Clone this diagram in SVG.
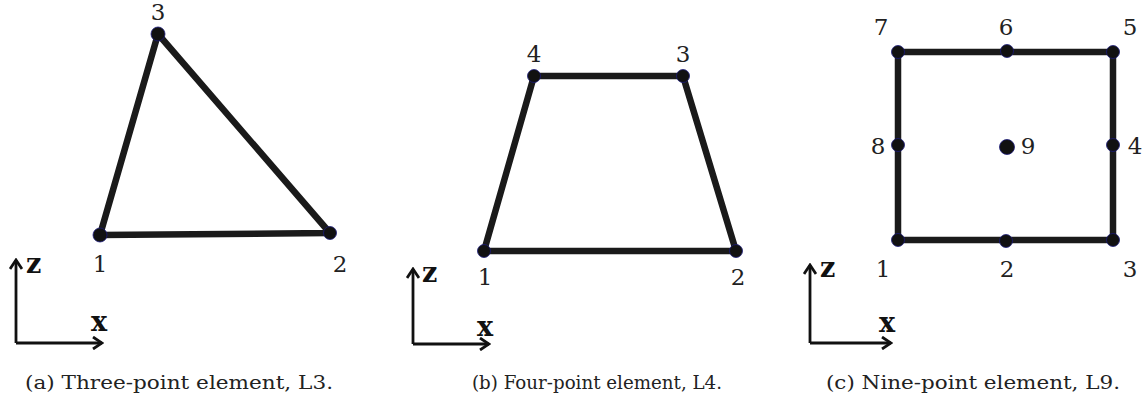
<svg xmlns="http://www.w3.org/2000/svg" width="1146" height="400" viewBox="0 0 1146 400">
<style>
.edge{fill:none;stroke:#1a1a1a;stroke-width:6.5;stroke-linejoin:round;stroke-linecap:round}
.node{fill:#111;stroke:#1a1a7a;stroke-width:0.8}
.num{font-family:"DejaVu Serif","Liberation Serif",serif;font-size:23px;fill:#222;text-anchor:middle}
.ax{fill:none;stroke:#111;stroke-width:2.8}
.axl{font-family:"DejaVu Serif","Liberation Serif",serif;font-weight:bold;font-size:27px;fill:#111}
.cap{font-family:"DejaVu Serif","Liberation Serif",serif;font-size:18.5px;fill:#222}
</style>
<defs>
<marker id="arr" viewBox="0 0 14 14" refX="12" refY="7" markerWidth="14" markerHeight="14" markerUnits="userSpaceOnUse" orient="auto">
<polyline points="3,1 12,7 3,13" fill="none" stroke="#111" stroke-width="2.8"/>
</marker>
</defs>
<rect width="1146" height="400" fill="#fff"/>

<g id="connectors">
<polygon class="edge" points="100,235 330,233 158,34"/>
<polygon class="edge" points="484,251 736,251 683,76 534,76"/>
<polygon class="edge" points="898,240 1113,240 1113,52 898,52"/>
</g>

<g id="panel-a">
<g id="a-n1"><circle class="node" cx="100" cy="235" r="7"/><text class="num" x="100" y="272">1</text></g>
<g id="a-n2"><circle class="node" cx="330" cy="233" r="6.5"/><text class="num" x="340" y="272">2</text></g>
<g id="a-n3"><circle class="node" cx="158" cy="34" r="7"/><text class="num" x="158" y="20">3</text></g>
<g id="a-axes">
<line class="ax" x1="16" y1="343" x2="102" y2="343" marker-end="url(#arr)"/>
<line class="ax" x1="16" y1="343" x2="16" y2="260" marker-end="url(#arr)"/>
<text class="axl" x="26" y="273">z</text>
<text class="axl" x="91" y="331">x</text>
</g>
<text class="cap" x="25" y="389" textLength="308" lengthAdjust="spacingAndGlyphs">(a) Three-point element, L3.</text>
</g>

<g id="panel-b">
<g id="b-n1"><circle class="node" cx="484" cy="251" r="6.5"/><text class="num" x="485" y="285">1</text></g>
<g id="b-n2"><circle class="node" cx="736" cy="251" r="6.5"/><text class="num" x="738" y="285">2</text></g>
<g id="b-n3"><circle class="node" cx="683" cy="76" r="6.5"/><text class="num" x="683" y="62">3</text></g>
<g id="b-n4"><circle class="node" cx="534" cy="76" r="6.5"/><text class="num" x="534" y="62">4</text></g>
<g id="b-axes">
<line class="ax" x1="413" y1="344" x2="489" y2="344" marker-end="url(#arr)"/>
<line class="ax" x1="413" y1="344" x2="413" y2="269" marker-end="url(#arr)"/>
<text class="axl" x="422" y="282">z</text>
<text class="axl" x="477" y="336">x</text>
</g>
<text class="cap" x="472" y="389" textLength="250" lengthAdjust="spacingAndGlyphs">(b) Four-point element, L4.</text>
</g>

<g id="panel-c">
<g id="c-n1"><circle class="node" cx="898" cy="240" r="6.5"/><text class="num" x="883" y="277">1</text></g>
<g id="c-n2"><circle class="node" cx="1006" cy="241" r="6.5"/><text class="num" x="1007" y="277">2</text></g>
<g id="c-n3"><circle class="node" cx="1113" cy="240" r="6.5"/><text class="num" x="1130" y="277">3</text></g>
<g id="c-n4"><circle class="node" cx="1113" cy="145" r="6.5"/><text class="num" x="1135" y="154">4</text></g>
<g id="c-n5"><circle class="node" cx="1113" cy="52" r="6.5"/><text class="num" x="1130" y="35">5</text></g>
<g id="c-n6"><circle class="node" cx="1007" cy="51" r="6.5"/><text class="num" x="1006" y="35">6</text></g>
<g id="c-n7"><circle class="node" cx="898" cy="52" r="6.5"/><text class="num" x="881" y="35">7</text></g>
<g id="c-n8"><circle class="node" cx="898" cy="145" r="6.5"/><text class="num" x="878" y="154">8</text></g>
<g id="c-n9"><circle class="node" cx="1007" cy="147" r="7.5"/><text class="num" x="1028" y="154">9</text></g>
<g id="c-axes">
<line class="ax" x1="810" y1="343" x2="891" y2="343" marker-end="url(#arr)"/>
<line class="ax" x1="810" y1="343" x2="810" y2="265" marker-end="url(#arr)"/>
<text class="axl" x="820" y="277">z</text>
<text class="axl" x="879" y="332">x</text>
</g>
<text class="cap" x="826" y="389" textLength="294" lengthAdjust="spacingAndGlyphs">(c) Nine-point element, L9.</text>
</g>
</svg>
